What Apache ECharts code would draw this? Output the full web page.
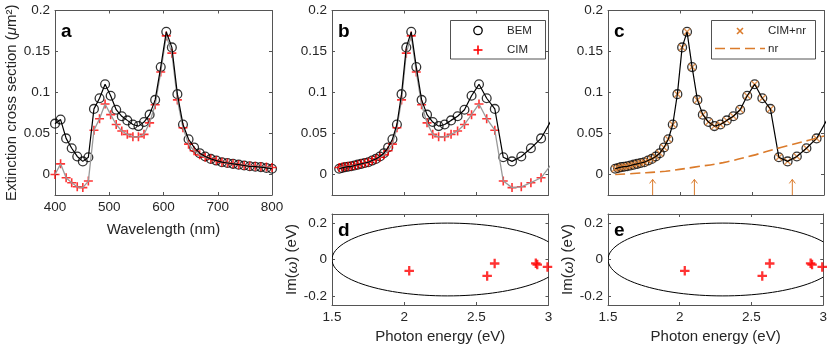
<!DOCTYPE html>
<html>
<head>
<meta charset="utf-8">
<script src="https://cdn.jsdelivr.net/npm/echarts@6/dist/echarts.min.js"></script>
<style>
  html, body { margin: 0; padding: 0; background: #fff; }
  #chart { width: 830px; height: 345px; }
</style>
</head>
<body>
<div id="chart"></div>
<script>
// wavelengths of the computed points (nm), shared by panels a, b, c
const wavelengths = [400, 410.3, 420.5, 430.8, 441.0, 451.3, 461.5, 471.8, 482.1, 492.3,
  502.6, 512.8, 523.1, 533.3, 543.6, 553.8, 564.1, 574.4, 584.6, 594.9,
  605.1, 615.4, 625.6, 635.9, 646.2, 656.4, 666.7, 676.9, 687.2, 697.4,
  707.7, 717.9, 728.2, 738.5, 748.7, 759.0, 769.2, 779.5, 789.7, 800];
// extinction cross section (um^2)
const bemVals = [0.062, 0.067, 0.044, 0.032, 0.022, 0.016, 0.021, 0.080, 0.093, 0.110,
  0.096, 0.079, 0.071, 0.066, 0.061, 0.059, 0.064, 0.073, 0.091, 0.131,
  0.174, 0.155, 0.098, 0.061, 0.043, 0.033, 0.026, 0.022, 0.019, 0.017,
  0.015, 0.014, 0.013, 0.012, 0.011, 0.010, 0.0095, 0.009, 0.008, 0.007];
const cimVals = [0.000, 0.013, -0.004, -0.010, -0.015, -0.016, -0.008, 0.054, 0.068, 0.086,
  0.073, 0.061, 0.053, 0.049, 0.046, 0.046, 0.049, 0.063, 0.085, 0.125,
  0.169, 0.148, 0.091, 0.057, 0.037, 0.029, 0.024, 0.021, 0.019, 0.017,
  0.015, 0.014, 0.013, 0.012, 0.011, 0.0105, 0.010, 0.0095, 0.009, 0.0085];
// CIM + non-resonant part sits on the BEM points in panel c
const cimNrVals = bemVals.slice();
// non-resonant background (panel c)
const nrEnergy = [1.55, 1.7, 1.9, 2.1, 2.3, 2.5, 2.7, 2.9, 3.0];
const nrVals = [0.0, 0.0015, 0.004, 0.009, 0.0145, 0.023, 0.033, 0.042, 0.047];
// arrows under panel c (eV)
const arrowEnergies = [1.81, 2.10, 2.78];
// poles (panels d, e)
const poleRe = [2.035, 2.575, 2.627, 2.912, 2.922, 2.993];
const poleIm = [-0.062, -0.090, -0.022, -0.021, -0.028, -0.041];
// integration contour: ellipse centre and semi-axes (eV)
const contourCenter = [2.3, 0];
const contourRadii = [0.8, 0.2];
// tick labels
const extTicks = [0, 0.05, 0.1, 0.15, 0.2];
const imTicks = [-0.2, 0, 0.2];

// photon energy of each point (eV)
const energies = wavelengths.map(w => 1239.84 / w);

const FONT = '"Liberation Sans", Arial, Helvetica, sans-serif';
const TXT = '#262626';
const AX = '#555';
const ORANGE = '#db7b2b';
const PLUS = 'path://M0,4.1H10V5.9H0Z M4.1,0H5.9V10H4.1Z';
const PLUS_BOLD = 'path://M0,3.8H10V6.2H0Z M3.8,0H6.2V10H3.8Z';
const CROSS = 'path://M1.3,0L5,3.7L8.7,0L10,1.3L6.3,5L10,8.7L8.7,10L5,6.3L1.3,10L0,8.7L3.7,5L0,1.3Z';

const myChart = echarts.init(document.getElementById('chart'));

const grids = [
  { left: 55, top: 10.5, width: 217, height: 184.5 },   // a
  { left: 332, top: 10.5, width: 216.5, height: 184.5 }, // b
  { left: 608, top: 10.5, width: 216, height: 184.5 },   // c
  { left: 332, top: 214, width: 216.5, height: 93 },     // d
  { left: 608, top: 214, width: 216, height: 93 }        // e
];

const xAxes = [];
const yAxes = [];
function boxAxes(g, xr, yr, xLabel, yLabel, xName, yName, xGap, yGap) {
  const base = {
    gridIndex: g, type: 'value',
    axisLine: { show: true, onZero: false, lineStyle: { color: AX, width: 1 } },
    axisTick: { show: true, inside: true, length: 3, lineStyle: { color: AX } },
    splitLine: { show: false }
  };
  const lbl = { color: TXT, fontSize: 13.5, fontFamily: FONT };
  const nameStyle = { color: TXT, fontSize: 15, fontFamily: FONT,
    rich: { i: { fontStyle: 'italic', fontSize: 15, fontFamily: FONT, color: TXT } } };
  xAxes.push(Object.assign({}, base, {
    position: 'bottom', min: xr[0], max: xr[1], interval: xr[2],
    axisLabel: Object.assign({ show: xLabel, margin: 5 }, lbl),
    name: xName || '', nameLocation: 'middle', nameGap: xGap, nameTextStyle: nameStyle
  }));
  xAxes.push(Object.assign({}, base, {
    position: 'top', min: xr[0], max: xr[1], interval: xr[2],
    axisLabel: { show: false }
  }));
  yAxes.push(Object.assign({}, base, {
    position: 'left', min: yr[0], max: yr[1],
    axisTick: { show: true, inside: true, length: 3, lineStyle: { color: AX }, customValues: yr[2] },
    axisLabel: Object.assign({ show: yLabel, margin: 5, customValues: yr[2] }, lbl),
    name: yName || '', nameLocation: 'middle', nameGap: yGap, nameTextStyle: nameStyle
  }));
  yAxes.push(Object.assign({}, base, {
    position: 'right', min: yr[0], max: yr[1],
    axisTick: { show: true, inside: true, length: 3, lineStyle: { color: AX }, customValues: yr[2] },
    axisLabel: { show: false }
  }));
}

boxAxes(0, [400, 800, 100], [-0.025, 0.2, extTicks], true, true,
  'Wavelength (nm)', 'Extinction cross section ({i|μ}m²)', 27, 35);
boxAxes(1, [1.5, 3, 0.5], [-0.025, 0.2, extTicks], false, true, '', '', 0, 0);
boxAxes(2, [1.5, 3, 0.5], [-0.025, 0.2, extTicks], false, true, '', '', 0, 0);
boxAxes(3, [1.5, 3, 0.5], [-0.25, 0.25, imTicks], true, true,
  'Photon energy (eV)', 'Im({i|ω}) (eV)', 24, 28);
boxAxes(4, [1.5, 3, 0.5], [-0.25, 0.25, imTicks], true, true,
  'Photon energy (eV)', 'Im({i|ω}) (eV)', 24, 28);

function pairs(xs, ys) { return xs.map((x, i) => [x, ys[i]]); }

const circleStyle = { color: 'transparent', borderColor: '#000', borderWidth: 1.3 };

function spectrumSeries(g, xs) {
  return [
    { name: 'cimLine', type: 'line', xAxisIndex: 2 * g, yAxisIndex: 2 * g,
      data: pairs(xs, cimVals), symbol: 'none', lineStyle: { color: '#9a9a9a', width: 1.3 }, silent: true },
    { name: 'bemLine', type: 'line', xAxisIndex: 2 * g, yAxisIndex: 2 * g,
      data: pairs(xs, bemVals), symbol: 'none', lineStyle: { color: '#000', width: 1.2 }, silent: true },
    { name: 'BEM', type: 'scatter', xAxisIndex: 2 * g, yAxisIndex: 2 * g,
      data: pairs(xs, bemVals), symbol: 'circle', symbolSize: 8.8, itemStyle: circleStyle },
    { name: 'CIM', type: 'scatter', xAxisIndex: 2 * g, yAxisIndex: 2 * g,
      data: pairs(xs, cimVals), symbol: PLUS, symbolSize: 9, itemStyle: { color: '#ff0000' } }
  ];
}

function contourSeries(g) {
  return [
    { name: 'contour', type: 'custom', xAxisIndex: 2 * g, yAxisIndex: 2 * g,
      data: [[contourCenter[0], contourCenter[1], contourRadii[0], contourRadii[1]]],
      silent: true,
      renderItem: function (params, api) {
        const c = api.coord([api.value(0), api.value(1)]);
        const s = api.size([api.value(2), api.value(3)]);
        const cs = params.coordSys;
        return {
          type: 'group',
          clipPath: { type: 'rect', shape: { x: cs.x, y: cs.y, width: cs.width, height: cs.height } },
          children: [{
            type: 'ellipse',
            shape: { cx: c[0], cy: c[1], rx: s[0], ry: s[1] },
            style: { fill: 'none', stroke: '#000', lineWidth: 1 }
          }]
        };
      } },
    { name: 'poles', type: 'scatter', xAxisIndex: 2 * g, yAxisIndex: 2 * g,
      data: pairs(poleRe, poleIm), symbol: PLUS_BOLD, symbolSize: 9.5,
      itemStyle: { color: '#ff0000' }, clip: false }
  ];
}

const series = [].concat(
  spectrumSeries(0, wavelengths),
  spectrumSeries(1, energies),
  [
    { name: 'bemLineC', type: 'line', xAxisIndex: 4, yAxisIndex: 4,
      data: pairs(energies, bemVals), symbol: 'none', lineStyle: { color: '#000', width: 1.2 }, silent: true },
    { name: 'BEM', type: 'scatter', xAxisIndex: 4, yAxisIndex: 4,
      data: pairs(energies, bemVals), symbol: 'circle', symbolSize: 8.8, itemStyle: circleStyle },
    { name: 'CIM+nr', type: 'scatter', xAxisIndex: 4, yAxisIndex: 4,
      data: pairs(energies, cimNrVals), symbol: CROSS, symbolSize: 7.5,
      itemStyle: { color: ORANGE } },
    { name: 'nr', type: 'line', xAxisIndex: 4, yAxisIndex: 4,
      data: pairs(nrEnergy, nrVals), symbol: 'none', smooth: 0.4,
      lineStyle: { color: ORANGE, width: 1.6, type: [10, 5] } },
    { name: 'arrows', type: 'custom', xAxisIndex: 4, yAxisIndex: 4,
      data: arrowEnergies.map(e => [e, 0]), silent: true,
      renderItem: function (params, api) {
        const tip = api.coord([api.value(0), -0.006]);
        const bot = api.coord([api.value(0), -0.025]);
        const st = { stroke: ORANGE, lineWidth: 1, fill: 'none' };
        return {
          type: 'group',
          children: [
            { type: 'line', shape: { x1: bot[0], y1: bot[1], x2: tip[0], y2: tip[1] }, style: st },
            { type: 'polyline', shape: { points: [[tip[0] - 3, tip[1] + 4], [tip[0], tip[1]], [tip[0] + 3, tip[1] + 4]] }, style: st }
          ]
        };
      } }
  ],
  contourSeries(3),
  contourSeries(4)
);

// legends drawn as boxes with sample marks, MATLAB style
const legFont = '11.5px ' + FONT;
function legText(t, x, y) {
  return { type: 'text', z: 101, style: { text: t, x: x, y: y, font: legFont, fill: TXT, verticalAlign: 'middle' } };
}
const legendB = [
  { type: 'rect', z: 100, shape: { x: 450.5, y: 20.5, width: 95, height: 38.5 },
    style: { fill: '#fff', stroke: '#262626', lineWidth: 0.8 } },
  { type: 'circle', z: 101, shape: { cx: 478, cy: 30.5, r: 4.2 },
    style: { fill: 'none', stroke: '#000', lineWidth: 1.3 } },
  { type: 'rect', z: 101, shape: { x: 473.5, y: 49.2, width: 9, height: 1.6 }, style: { fill: '#ff0000' } },
  { type: 'rect', z: 101, shape: { x: 477.2, y: 45.5, width: 1.6, height: 9 }, style: { fill: '#ff0000' } },
  legText('BEM', 507, 30.5),
  legText('CIM', 507, 50)
];
const legendC = [
  { type: 'rect', z: 100, shape: { x: 711.5, y: 20.5, width: 104, height: 38.5 },
    style: { fill: '#fff', stroke: '#262626', lineWidth: 0.8 } },
  { type: 'group', z: 101, x: 740, y: 31, rotation: Math.PI / 4, children: [
    { type: 'rect', z: 101, shape: { x: -4.2, y: -0.8, width: 8.4, height: 1.6 }, style: { fill: ORANGE } },
    { type: 'rect', z: 101, shape: { x: -0.8, y: -4.2, width: 1.6, height: 8.4 }, style: { fill: ORANGE } }
  ] },
  { type: 'line', z: 101, shape: { x1: 715, y1: 48.5, x2: 765, y2: 48.5 },
    style: { stroke: ORANGE, lineWidth: 1.6, lineDash: [10, 5] } },
  legText('CIM+nr', 768, 31),
  legText('nr', 768, 48.5)
];

const letters = [['a', 61, 31.5], ['b', 338, 31.5], ['c', 614, 31.5], ['d', 338, 231], ['e', 614, 231]];
const letterEls = letters.map(l => ({
  type: 'text', z: 100,
  style: { text: l[0], x: l[1], y: l[2], font: 'bold 19px ' + FONT, fill: '#000', verticalAlign: 'middle' }
}));

const option = {
  animation: false,
  textStyle: { fontFamily: FONT },
  grid: grids,
  xAxis: xAxes,
  yAxis: yAxes,
  graphic: letterEls.concat(legendB, legendC),
  series: series
};

myChart.setOption(option);
</script>
</body>
</html>
